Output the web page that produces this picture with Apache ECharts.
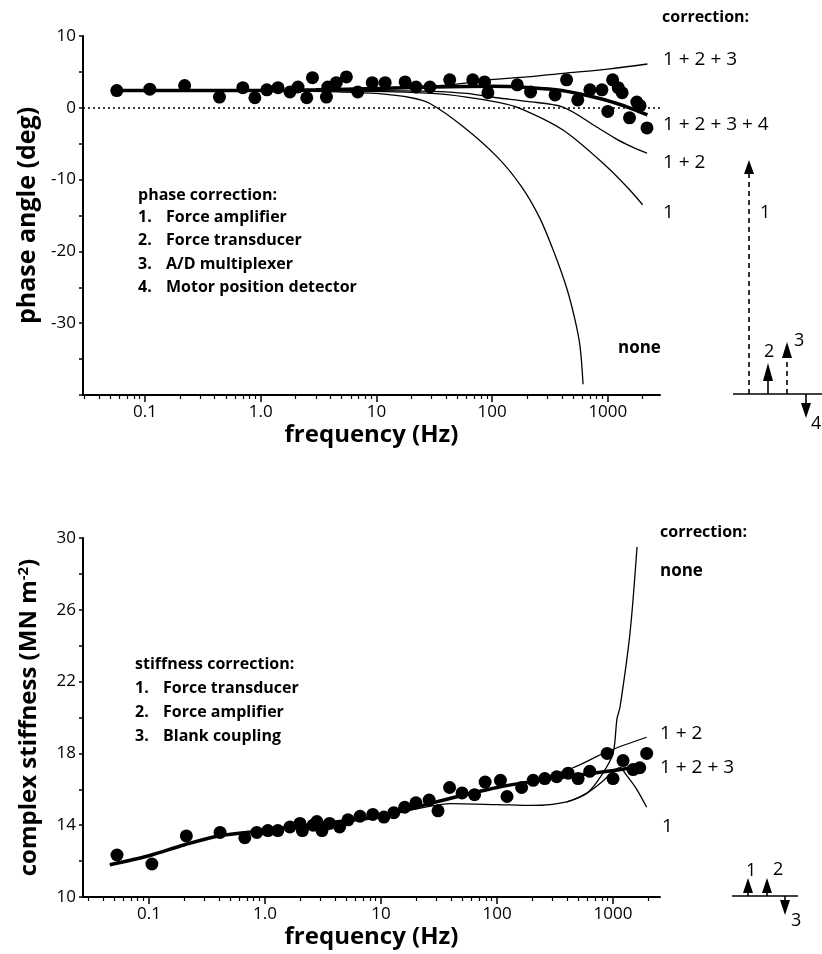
<!DOCTYPE html>
<html>
<head>
<meta charset="utf-8">
<script src="https://cdn.jsdelivr.net/npm/echarts@6/dist/echarts.min.js"></script>
<style>
html,body{margin:0;padding:0;background:#fff}
#main{width:822px;height:954px}
</style>
</head>
<body>
<div id="main"></div>
<script>
// phase angle panel: measured points
var phaseFreq = [0.057,0.11,0.22,0.44,0.70,0.89,1.13,1.41,1.79,2.1,2.5,2.8,3.7,3.8,4.5,5.5,6.9,9.2,11.9,17.7,22,29,43,68,86,92,165,215,350,440,550,700,890,1000,1100,1230,1330,1540,1780,1900,2180];
var phaseDeg  = [2.4,2.6,3.1,1.5,2.8,1.4,2.5,2.8,2.2,2.9,1.4,4.2,1.5,2.9,3.5,4.3,2.2,3.5,3.5,3.6,2.9,2.9,3.9,3.9,3.6,2.1,3.2,2.2,1.8,3.9,1.1,2.5,2.5,-0.5,3.9,2.8,2.1,-1.4,0.8,0.3,-2.8];

// phase correction curves
var pAllFreq = [0.055,0.3,1,3,10,30,100,215,400,800,1200,1600,2200];
var pAllDeg  = [2.4,2.4,2.4,2.5,2.7,2.9,3.0,2.8,2.4,1.4,0.6,-0.1,-1.0];
var p123Freq = [0.055,1,10,30,56,95,200,410,1000,2200];
var p123Deg  = [2.4,2.4,2.6,3.0,3.4,3.9,4.3,4.8,5.4,6.1];
var p12Freq  = [0.055,1,10,30,60,110,200,410,807,1200,1600,2180];
var p12Deg   = [2.4,2.4,2.4,2.3,2.0,1.4,0.9,0.1,-2.7,-4.4,-5.4,-6.3];
var p1Freq   = [0.055,1,10,30,60,110,170,410,980,1500,2000];
var p1Deg    = [2.4,2.4,2.3,2.0,1.5,0.8,0.0,-3.1,-8.2,-11.2,-13.5];
var pNoneFreq = [0.055,1,5,10,20,29,56,110,180,259,350,443,520,575,611];
var pNoneDeg  = [2.4,2.4,2.2,2.0,1.4,0.6,-2.6,-6.8,-11.0,-15.4,-20.5,-25.2,-29.5,-33.2,-38.5];

// stiffness panel: measured points
var stiffFreq = [0.053,0.106,0.21,0.41,0.67,0.85,1.06,1.29,1.64,2.0,2.1,2.6,2.8,3.1,3.6,4.4,5.2,6.6,8.5,10.6,12.9,16,20,26,31,39,50,64,79,107,122,163,205,258,327,410,500,630,890,1000,1220,1490,1700,1950];
var stiffVal  = [12.34,11.84,13.4,13.6,13.3,13.6,13.7,13.7,13.9,14.1,13.7,14.0,14.2,13.7,14.1,13.9,14.3,14.5,14.6,14.45,14.7,15.0,15.25,15.4,14.8,16.1,15.8,15.7,16.4,16.5,15.6,16.1,16.5,16.6,16.7,16.9,16.6,17.0,18.0,16.6,17.6,17.1,17.2,18.0];

// stiffness correction curves
var s123Freq = [0.046,0.1,0.2,0.4,1,2,5,10,30,100,300,900,1450];
var s123Val  = [11.8,12.3,12.9,13.4,13.7,13.95,14.25,14.5,15.3,16.1,16.6,17.0,17.2];
var s12Freq  = [0.046,0.1,0.2,0.4,1,2,5,10,30,100,200,452,890,1950];
var s12Val   = [11.8,12.3,12.9,13.4,13.7,13.95,14.25,14.5,15.3,16.1,16.5,17.2,18.1,18.9];
var s1Freq   = [0.046,0.1,0.2,0.4,1,2,5,10,20,40,100,200,400,600,800,1000,1150,1300,1600,1950];
var s1Val    = [11.8,12.3,12.9,13.4,13.7,13.95,14.25,14.5,14.9,15.2,15.15,15.1,15.3,15.8,16.4,17.0,17.2,16.8,16.0,15.0];
var sNoneFreq = [400,600,800,1000,1080,1150,1400,1610];
var sNoneVal  = [15.3,15.8,16.8,18.0,19.9,20.6,24.7,29.5];

// axis ticks and labels
var majorTicks = [0.1,1,10,100,1000];
var majorLabels = ['0.1','1.0','10','100','1000'];
var minorTicks = [0.03,0.04,0.05,0.06,0.07,0.08,0.09,0.2,0.3,0.4,0.5,0.6,0.7,0.8,0.9,
                  2,3,4,5,6,7,8,9,20,30,40,50,60,70,80,90,200,300,400,500,600,700,800,900,2000];

var FONT = '"Open Sans", "DejaVu Sans", sans-serif';

function pairs(xs, ys) {
    var out = [];
    for (var i = 0; i < xs.length; i++) out.push([xs[i], ys[i]]);
    return out;
}
function freqLabel(v) {
    var k = Math.round(Math.log10(v)) + 1;
    return majorLabels[k] || '';
}
function xMajor(grid, min, max) {
    return {
        gridIndex: grid, type: 'log', logBase: 10, min: min, max: max, position: 'bottom',
        axisLine: {onZero: false, lineStyle: {color: '#000', width: 2}},
        axisTick: {customValues: majorTicks, length: 7, lineStyle: {color: '#000', width: 1.5}},
        axisLabel: {customValues: majorTicks, formatter: freqLabel, color: '#000', fontSize: 17, fontFamily: FONT, margin: 9},
        splitLine: {show: false},
        name: 'frequency (Hz)', nameLocation: 'middle', nameGap: 28,
        nameTextStyle: {fontSize: 24, fontWeight: 'bold', color: '#000', fontFamily: FONT}
    };
}
function xMinor(grid, min, max) {
    return {
        gridIndex: grid, type: 'log', logBase: 10, min: min, max: max, position: 'bottom',
        axisLine: {show: false, onZero: false},
        axisTick: {customValues: minorTicks, length: 4, lineStyle: {color: '#000', width: 1.2}},
        axisLabel: {show: false},
        splitLine: {show: false}
    };
}
function curve(xi, yi, xs, ys, w) {
    return {
        type: 'line', xAxisIndex: xi, yAxisIndex: yi, data: pairs(xs, ys),
        smooth: 0.3, showSymbol: false, silent: true,
        lineStyle: {color: '#000', width: w}, z: 2
    };
}
function arrow(x, yBase, yTip, dashed, head) {
    var dir = yTip < yBase ? 1 : -1;
    var yHead = yTip + dir * head;
    return [
        {type: 'line', shape: {x1: x, y1: yBase, x2: x, y2: yHead},
         style: {stroke: '#000', lineWidth: 1.6, lineDash: dashed ? [5, 4] : null}},
        {type: 'polygon', shape: {points: [[x, yTip], [x - 5, yHead], [x + 5, yHead]]},
         style: {fill: '#000'}}
    ];
}
function txt(s, x, y, size, bold) {
    return {type: 'text', x: x, y: y,
        style: {text: s, fill: '#000', font: (bold ? 'bold ' : '') + size + 'px ' + FONT, verticalAlign: 'middle'}};
}

var graphics = [];
// text blocks inside the panels
graphics.push(txt('phase correction:', 138, 195, 16, true));
['Force amplifier', 'Force transducer', 'A/D multiplexer', 'Motor position detector'].forEach(function (s, i) {
    graphics.push(txt((i + 1) + '.', 138, 217 + i * 23.5, 16, true));
    graphics.push(txt(s, 166, 217 + i * 23.5, 16, true));
});
graphics.push(txt('stiffness correction:', 135, 664, 16, true));
['Force transducer', 'Force amplifier', 'Blank coupling'].forEach(function (s, i) {
    graphics.push(txt((i + 1) + '.', 135, 688 + i * 24, 16, true));
    graphics.push(txt(s, 163, 688 + i * 24, 16, true));
});
// curve labels
graphics.push(txt('correction:', 662, 17, 16, true));
graphics.push(txt('1 + 2 + 3', 663, 60, 19, false));
graphics.push(txt('1 + 2 + 3 + 4', 663, 125, 19, false));
graphics.push(txt('1 + 2', 663, 163, 19, false));
graphics.push(txt('1', 663, 213, 19, false));
graphics.push(txt('none', 618, 348, 17, true));
graphics.push(txt('correction:', 660, 532, 16, true));
graphics.push(txt('none', 660, 571, 17, true));
graphics.push(txt('1 + 2', 660, 734, 19, false));
graphics.push(txt('1 + 2 + 3', 660, 768, 19, false));
graphics.push(txt('1', 662, 827, 19, false));
// correction size arrows, top
graphics.push({type: 'line', shape: {x1: 733, y1: 394, x2: 822, y2: 394}, style: {stroke: '#000', lineWidth: 1.5}});
graphics = graphics.concat(arrow(749, 394, 160, true, 14));
graphics = graphics.concat(arrow(768, 394, 363, false, 18));
graphics = graphics.concat(arrow(787, 394, 342, true, 16));
graphics = graphics.concat(arrow(806, 394, 418, false, 15));
graphics.push(txt('1', 760, 213, 18, false));
graphics.push(txt('2', 764, 352, 18, false));
graphics.push(txt('3', 794, 341, 18, false));
graphics.push(txt('4', 811, 424, 18, false));
// correction size arrows, bottom
graphics.push({type: 'line', shape: {x1: 732, y1: 896, x2: 798, y2: 896}, style: {stroke: '#000', lineWidth: 1.5}});
graphics = graphics.concat(arrow(748, 896, 878, false, 15));
graphics = graphics.concat(arrow(767, 896, 878, false, 15));
graphics = graphics.concat(arrow(785, 896, 915, false, 15));
graphics.push(txt('1', 746, 871, 18, false));
graphics.push(txt('2', 773, 870, 18, false));
graphics.push(txt('3', 791, 921, 18, false));

var chart = echarts.init(document.getElementById('main'));
var option = {
    animation: false,
    backgroundColor: '#fff',
    grid: [
        {left: 83, top: 36, width: 577, height: 359},
        {left: 83, top: 538, width: 577, height: 359}
    ],
    xAxis: [
        xMajor(0, 0.0291, 2825), xMinor(0, 0.0291, 2825),
        xMajor(1, 0.027, 2540), xMinor(1, 0.027, 2540)
    ],
    yAxis: [
        {
            gridIndex: 0, type: 'value', min: -40, max: 10, interval: 5,
            axisLine: {show: true, onZero: false, lineStyle: {color: '#000', width: 2}},
            axisTick: {show: true, length: 4, lineStyle: {color: '#000', width: 1.5}},
            axisLabel: {color: '#000', fontSize: 17, fontFamily: FONT, margin: 7,
                formatter: function (v) { return (v % 10 === 0 && v > -40) ? String(v) : ''; }},
            splitLine: {show: false},
            name: 'phase angle (deg)', nameLocation: 'middle', nameGap: 40,
            nameTextStyle: {fontSize: 25, fontWeight: 'bold', color: '#000', fontFamily: FONT}
        },
        {
            gridIndex: 1, type: 'value', min: 10, max: 30, interval: 2,
            axisLine: {show: true, onZero: false, lineStyle: {color: '#000', width: 2}},
            axisTick: {show: true, length: 4, lineStyle: {color: '#000', width: 1.5}},
            axisLabel: {color: '#000', fontSize: 17, fontFamily: FONT, margin: 7,
                formatter: function (v) { return ((v - 10) % 4 === 0) ? String(v) : ''; }},
            splitLine: {show: false},
            name: 'complex stiffness (MN m{sup|-2})', nameLocation: 'middle', nameGap: 40,
            nameTextStyle: {fontSize: 24, fontWeight: 'bold', color: '#000', fontFamily: FONT,
                rich: {sup: {fontSize: 15, fontWeight: 'bold', fontFamily: FONT, verticalAlign: 'top', padding: [0, 0, 12, 0]}}}
        }
    ],
    series: [
        curve(0, 0, pNoneFreq, pNoneDeg, 1.3),
        curve(0, 0, p1Freq, p1Deg, 1.3),
        curve(0, 0, p12Freq, p12Deg, 1.3),
        curve(0, 0, p123Freq, p123Deg, 1.3),
        curve(0, 0, pAllFreq, pAllDeg, 3.5),
        {
            type: 'scatter', xAxisIndex: 0, yAxisIndex: 0, data: pairs(phaseFreq, phaseDeg),
            symbolSize: 13, itemStyle: {color: '#000', opacity: 1}, z: 3,
            markLine: {silent: true, symbol: 'none', label: {show: false},
                lineStyle: {color: '#000', type: [2, 3], width: 1.5}, data: [{yAxis: 0}]}
        },
        curve(2, 1, sNoneFreq, sNoneVal, 1.3),
        curve(2, 1, s1Freq, s1Val, 1.3),
        curve(2, 1, s12Freq, s12Val, 1.3),
        curve(2, 1, s123Freq, s123Val, 3.5),
        {
            type: 'scatter', xAxisIndex: 2, yAxisIndex: 1, data: pairs(stiffFreq, stiffVal),
            symbolSize: 13, itemStyle: {color: '#000', opacity: 1}, z: 3
        }
    ],
    graphic: graphics
};
chart.setOption(option);
</script>
</body>
</html>
